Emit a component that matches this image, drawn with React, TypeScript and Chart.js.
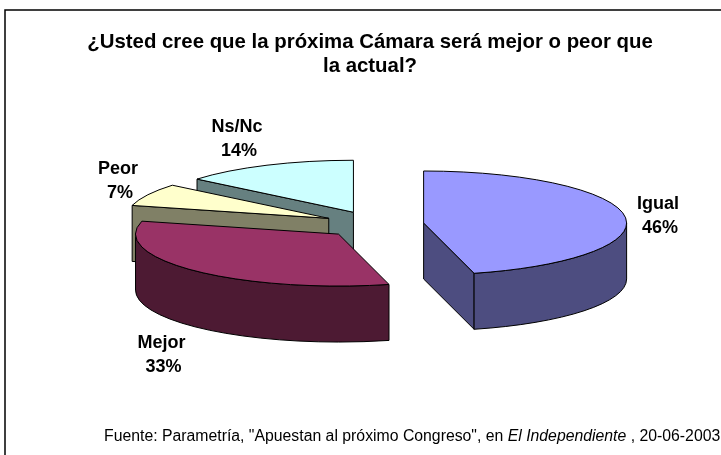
import React, { useEffect, useRef } from "react";
import { Chart, registerables } from "chart.js";

Chart.register(...registerables);

const categories = ["Igual", "Mejor", "Peor", "Ns/Nc"];
const shares = [46, 33, 7, 14];
const topColors = ["#9999FF", "#993366", "#FFFFCC", "#CCFFFF"];
const sideColors = ["#4D4D80", "#4D1A33", "#808066", "#668080"];
const explode = [48, 53, 53, 53];
const labelNudge = [[34, 0], [-32.5, 84.5], [-29, -14], [-29, -26]];
const titleLines = ["¿Usted cree que la próxima Cámara será mejor o peor que", "la actual?"];
const sourceParts = [
  { text: 'Fuente: Parametría, "Apuestan al próximo Congreso", en ', italic: false },
  { text: "El Independiente", italic: true },
  { text: " , 20-06-2003", italic: false },
];

const TILT = 0.256;
const DEPTH = 56;
const RADIUS = 203;
const FONT = '"Liberation Sans", Arial, sans-serif';

const piePlugin = {
  id: "pie3d",
  beforeDraw(chart: any) {
    const { ctx, width, height } = chart;
    ctx.save();
    ctx.fillStyle = "#FFFFFF";
    ctx.fillRect(0, 0, width, height);
    ctx.strokeStyle = "#000000";
    ctx.lineWidth = 1.5;
    ctx.strokeRect(5, 10, width + 40, height + 40);
    ctx.restore();
  },
  beforeDatasetsDraw(chart: any) {
    const { ctx } = chart;
    const arcs = chart.getDatasetMeta(0).data;
    const geom = arcs.map((arc: any, i: number) => {
      const mid = (arc.startAngle + arc.endAngle) / 2;
      return {
        i,
        a: arc.startAngle,
        b: arc.endAngle,
        mid,
        R: arc.outerRadius,
        cx: arc.x + (Math.cos(mid) * arc.options.offset) / 4,
        cy: arc.y + (Math.sin(mid) * arc.options.offset * TILT) / 4,
        top: arc.options.backgroundColor,
      };
    });
    ctx.save();
    ctx.lineWidth = 1;
    ctx.strokeStyle = "#000000";
    ctx.lineJoin = "round";
    const px = (g: any, t: number) => g.cx + g.R * Math.cos(t);
    const py = (g: any, t: number) => g.cy + g.R * TILT * Math.sin(t);
    const paint = (fill: string) => {
      ctx.fillStyle = fill;
      ctx.fill();
      ctx.stroke();
    };
    const radialFace = (g: any, t: number) => {
      ctx.beginPath();
      ctx.moveTo(g.cx, g.cy);
      ctx.lineTo(px(g, t), py(g, t));
      ctx.lineTo(px(g, t), py(g, t) + DEPTH);
      ctx.lineTo(g.cx, g.cy + DEPTH);
      ctx.closePath();
      paint(sideColors[g.i]);
    };
    [3, 2, 1, 0].forEach((i) => {
      const g = geom[i];
      if (Math.cos(g.a) < -1e-6) radialFace(g, g.a);
      if (Math.cos(g.b) > 1e-6) radialFace(g, g.b);
      const s = Math.max(g.a, 0);
      const e = Math.min(g.b, Math.PI);
      if (e > s) {
        ctx.beginPath();
        ctx.ellipse(g.cx, g.cy, g.R, g.R * TILT, 0, s, e, false);
        ctx.ellipse(g.cx, g.cy + DEPTH, g.R, g.R * TILT, 0, e, s, true);
        ctx.closePath();
        paint(sideColors[g.i]);
      }
      ctx.beginPath();
      ctx.moveTo(g.cx, g.cy);
      ctx.ellipse(g.cx, g.cy, g.R, g.R * TILT, 0, g.a, g.b, false);
      ctx.closePath();
      paint(g.top);
    });
    ctx.restore();

    ctx.save();
    ctx.fillStyle = "#000000";
    ctx.textAlign = "center";
    ctx.textBaseline = "middle";
    ctx.font = `bold 18px ${FONT}`;
    geom.forEach((g: any) => {
      const x = px(g, g.mid) + labelNudge[g.i][0];
      const y = py(g, g.mid) + labelNudge[g.i][1];
      ctx.fillText(categories[g.i], x - 1, y - 12);
      ctx.fillText(`${shares[g.i]}%`, x + 1, y + 12);
    });
    ctx.font = `bold 20.4px ${FONT}`;
    titleLines.forEach((line, n) => ctx.fillText(line, 370, 42 + n * 24));
    ctx.textAlign = "left";
    let x = 104;
    sourceParts.forEach((part) => {
      ctx.font = `${part.italic ? "italic " : ""}15.8px ${FONT}`;
      ctx.fillText(part.text, x, 437);
      x += ctx.measureText(part.text).width;
    });
    ctx.restore();
    return false;
  },
};

export default function App() {
  const ref = useRef<HTMLCanvasElement>(null);
  useEffect(() => {
    document.body.style.margin = "0";
    const chart = new Chart(ref.current as HTMLCanvasElement, {
      type: "pie",
      data: {
        labels: categories,
        datasets: [
          {
            data: shares,
            backgroundColor: topColors,
            borderColor: "#000000",
            borderWidth: 1,
            offset: explode.map((d) => d * 4),
          },
        ],
      },
      options: {
        responsive: false,
        animation: false,
        devicePixelRatio: 1,
        radius: RADIUS,
        layout: { padding: { left: 31, bottom: 6 } },
        plugins: { legend: { display: false }, tooltip: { enabled: false }, title: { display: false } },
      } as any,
      plugins: [piePlugin],
    });
    return () => chart.destroy();
  }, []);
  return <canvas ref={ref} width={721} height={455} style={{ display: "block" }} />;
}
